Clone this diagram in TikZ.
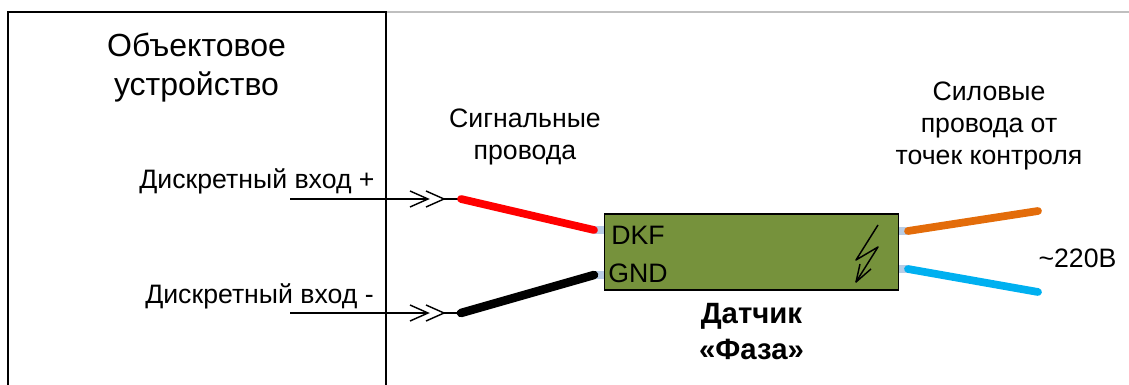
\documentclass[tikz,border=0pt]{standalone}
\usepackage{fontspec}
\setmainfont{Liberation Sans}
\usetikzlibrary{calc}
\definecolor{boxgreen}{HTML}{76923C}
\definecolor{stubblue}{HTML}{B9CDE5}
\definecolor{wireorange}{HTML}{E36C0A}
\definecolor{wireblue}{HTML}{00B0F0}
\tikzset{
  label/.style = {inner sep = 0pt, align = center, font = \fontsize{20}{24}\selectfont},
  wire/.style = {line width = 5.8pt, line cap = round},
  stub/.style = {line width = 6pt, draw = stubblue},
  thin line/.style = {line width = 1.1pt}
}
\begin{document}
\begin{tikzpicture}[x = 0.75pt, y = -0.75pt]
  \useasboundingbox (0, 0) rectangle (1129, 385);

  \draw [draw = black!25, line width = 1.5pt] (386, 12) -- (1129, 12);
  \draw [line width = 1.2pt] (8, 385) -- (8, 12) -- (386, 12) -- (386, 385);
  \node [label, font = \fontsize{24}{29}\selectfont] (device) at (196.5, 67.5) {Объектовое\\устройство};

  \node [label] (inplus) at (257, 181.5) {Дискретный вход +};
  \node [label] (inminus) at (259.5, 296.5) {Дискретный вход -};
  \node [label] (signal) at (525, 137) {Сигнальные\\провода};
  \node [label] (power) at (989, 126) {Силовые\\провода от\\точек контроля};

  \node [draw = black, line width = 1.2pt, fill = boxgreen, minimum width = 220.5pt, minimum height = 57pt, inner sep = 0pt] (sensor) at (751.5, 252) {};
  \node [label, anchor = west] (dkf) at (611, 235) {DKF};
  \node [label, anchor = west] (gnd) at (608, 273) {GND};
  \node [label, font = \bfseries\fontsize{22}{27}\selectfont] (name) at (751.5, 331.5) {Датчик\\«Фаза»};
  \node [label] (volt) at (1077.5, 258) {\textasciitilde 220В};

  \coordinate (A1) at (290, 199);
  \coordinate (A2) at (428, 199);
  \coordinate (A3) at (444, 199);
  \coordinate (A4) at (461, 199);
  \coordinate (B1) at (290, 313);
  \coordinate (B2) at (428, 313);
  \coordinate (B3) at (444, 313);
  \coordinate (B4) at (461, 313);

  \coordinate (R1) at (594, 230);
  \coordinate (K1) at (594, 275);
  \coordinate (O1) at (908, 231);
  \coordinate (O2) at (1038, 211);
  \coordinate (S1) at (908, 269);
  \coordinate (S2) at (1038, 292);

  \draw [thin line] (A1) -- (A2);
  \draw [thin line] (A3) -- (A4);
  \draw [thin line] (B1) -- (B2);
  \draw [thin line] (B3) -- (B4);
  \foreach \tip in {A2, A3, B2, B3} {
    \draw [thin line] ($(\tip) + (-18, -8)$) -- (\tip) -- ($(\tip) + (-18, 8)$);
  }

  \draw [stub] (R1) -- (sensor.west |- R1);
  \draw [stub] (K1) -- (sensor.west |- K1);
  \draw [stub] (O1) -- (sensor.east |- O1);
  \draw [stub] (S1) -- (sensor.east |- S1);

  \draw [wire, draw = red] (A4) -- (R1);
  \draw [wire, draw = black, line width = 6.4pt] (B4) -- (K1);
  \draw [wire, draw = wireorange] (O1) -- (O2);
  \draw [wire, draw = wireblue] (S1) -- (S2);

  % molniya
  \draw [thin line, line join = round] (878, 225) -- (856, 260) -- (878, 247) -- (856, 282);
  \draw [thin line, line join = round] (860, 264) -- (856, 282) -- (871, 269);
\end{tikzpicture}
\end{document}
